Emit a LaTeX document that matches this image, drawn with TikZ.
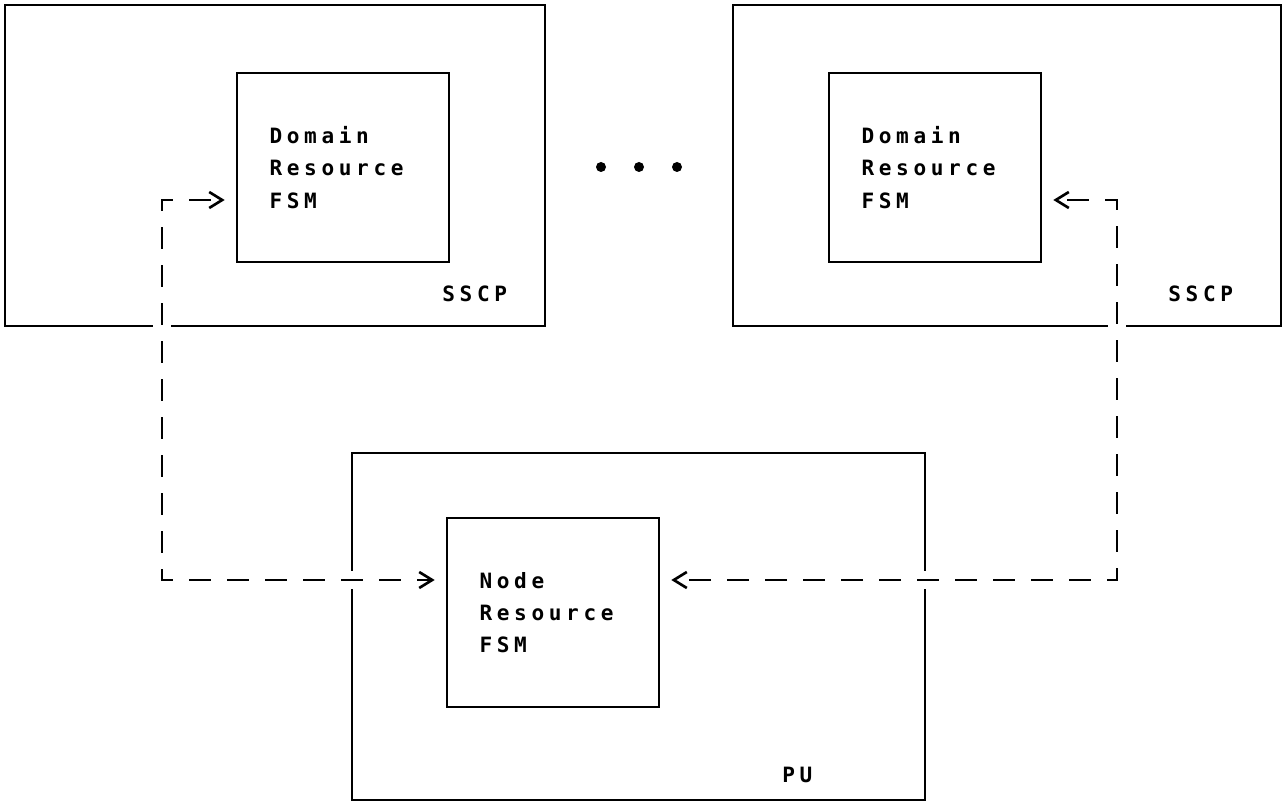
\documentclass[tikz,border=0pt]{standalone}
\usepackage{fontspec}
\setmonofont{DejaVu Sans Mono}[LetterSpace=22]
\usetikzlibrary{positioning,arrows.meta}

\begin{document}
\begin{tikzpicture}[
    x=0.02cm, y=-0.02cm,
    boxStyle/.style={rectangle, draw=black, line width=1.5pt, inner sep=0pt},
    fsmStyle/.style={boxStyle, minimum width=4.24cm, minimum height=3.78cm, text width=2.94cm, align=left, font=\ttfamily\bfseries\fontsize{12}{18.4}\selectfont},
    labelStyle/.style={anchor=base west, inner sep=0pt, font=\ttfamily\bfseries\fontsize{12}{18.4}\selectfont},
    connStyle/.style={line width=1.5pt, dash pattern=on 0.44cm off 0.32cm, dash phase=0.56cm,
        {Straight Barb[length=0.26cm,width=0.32cm]}-{Straight Barb[length=0.26cm,width=0.32cm]},
        shorten <=0.22cm, shorten >=0.22cm,
        preaction={draw=white, line width=0.36cm, solid, -}}
]
    \useasboundingbox (0,0) rectangle (1285,803);

    % SSCP boxes
    \node[boxStyle, minimum width=10.8cm, minimum height=6.42cm] (sscpA) at (275,165.5) {};
    \node[boxStyle, minimum width=10.96cm, minimum height=6.42cm] (sscpB) at (1007,165.5) {};
    \node[labelStyle] (sscpAlbl) at (442,302) {SSCP};
    \node[labelStyle] (sscpBlbl) at (1168,302) {SSCP};

    % Domain Resource FSMs
    \node[fsmStyle] (drfA) at (343,167.5) {Domain\\Resource\\FSM};
    \node[fsmStyle] (drfB) at (935,167.5) {Domain\\Resource\\FSM};

    % dots between the two domains
    \foreach \x in {601,639,677}
        \fill (\x,167) circle (0.1cm);

    % PU with the Node Resource FSM
    \node[boxStyle, minimum width=11.46cm, minimum height=6.94cm] (pu) at (638.5,626.5) {};
    \node[labelStyle] (pulbl) at (782,782) {PU};
    \node[fsmStyle] (nrf) at (553,612.5) {Node\\Resource\\FSM};

    % dashed flows
    \coordinate (lTop) at (162,200);
    \coordinate (lBot) at (162,580);
    \coordinate (rTop) at (1117,200);
    \coordinate (rBot) at (1117,580);
    \draw[connStyle] (drfA.west |- lTop) -- (lTop) -- (lBot) -- (nrf.west |- lBot);
    \draw[connStyle] (drfB.east |- rTop) -- (rTop) -- (rBot) -- (nrf.east |- rBot);
\end{tikzpicture}
\end{document}
